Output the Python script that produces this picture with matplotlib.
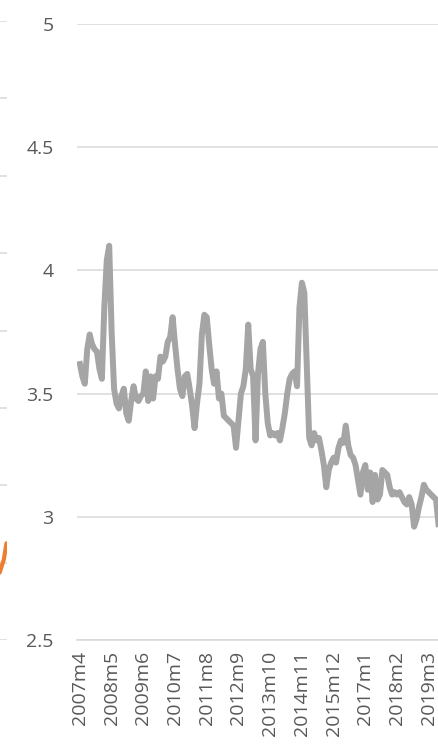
import numpy as np
import matplotlib
matplotlib.use('Agg')
import matplotlib.pyplot as plt

plt.rcParams['font.family'] = ['Open Sans', 'DejaVu Sans']

# monthly series, 2007m4 onwards
start_year, start_month = 2007, 4
values = [3.62, 3.57, 3.54, 3.68, 3.74, 3.70, 3.68, 3.67, 3.60, 3.56,
          3.85, 4.04, 4.10, 3.75, 3.52, 3.46, 3.44, 3.49, 3.52, 3.42,
          3.39, 3.47, 3.53, 3.48, 3.47, 3.49, 3.50, 3.59, 3.47, 3.57,
          3.48, 3.57, 3.56, 3.65, 3.63, 3.65, 3.71, 3.73, 3.81, 3.70,
          3.60, 3.52, 3.49, 3.57, 3.58, 3.52, 3.45, 3.36, 3.46, 3.54,
          3.74, 3.82, 3.81, 3.70, 3.60, 3.54, 3.59, 3.48, 3.50, 3.41,
          3.40, 3.39, 3.38, 3.37, 3.28, 3.39, 3.50, 3.53, 3.60, 3.78,
          3.60, 3.57, 3.31, 3.58, 3.68, 3.71, 3.50, 3.38, 3.33, 3.34,
          3.33, 3.34, 3.31, 3.36, 3.42, 3.50, 3.56, 3.58, 3.59, 3.53,
          3.85, 3.95, 3.91, 3.62, 3.32, 3.29, 3.34, 3.31, 3.32, 3.27,
          3.21, 3.12, 3.19, 3.22, 3.24, 3.22, 3.28, 3.31, 3.30, 3.37,
          3.29, 3.25, 3.24, 3.21, 3.15, 3.09, 3.18, 3.21, 3.11, 3.18,
          3.06, 3.17, 3.07, 3.09, 3.19, 3.18, 3.17, 3.12, 3.09, 3.10,
          3.09, 3.10, 3.08, 3.06, 3.05, 3.08, 3.05, 2.96, 2.99, 3.04,
          3.08, 3.13, 3.11, 3.10, 3.09, 3.08, 3.07, 2.97]

labels = []
for i in range(len(values)):
    m = start_month - 1 + i
    labels.append('%dm%d' % (start_year + m // 12, m % 12 + 1))

# edge of the neighbouring chart (only a sliver is visible)
nb_x = [9.4, 9.8, 10.05]
nb_y = [0.87, 1.04, 1.25]

W, H = 439, 747
fig = plt.figure(figsize=(W / 100, H / 100), dpi=100)
bottom = (H - 640) / H
height = (640 - 24) / H

grid_c = '#d9d9d9'
text_c = '#595959'

# neighbour sliver
ax0 = fig.add_axes([-100 / W, bottom, 107 / W, (640 - 21) / H])
ax0.set_xlim(0, 10.1)
ax0.set_ylim(0, 8)
for g in range(9):
    ax0.axhline(g, color=grid_c, lw=1.1)
ax0.plot(nb_x, nb_y, color='#ed7d31', lw=3, solid_capstyle='round')
ax0.axis('off')

# main chart
ax = fig.add_axes([77 / W, bottom, 381 / W, height])
x = np.arange(len(values))
ax.plot(x, values, color='#a5a5a5', lw=4.3, solid_joinstyle='round')
ax.set_xlim(-1.2, 155)
ax.set_ylim(2.5, 5)
ax.set_yticks([2.5, 3, 3.5, 4, 4.5, 5])
ax.set_yticklabels(['2.5', '3', '3.5', '4', '4.5', '5'])
ax.yaxis.grid(True, color=grid_c, lw=1.1)
ax.set_axisbelow(True)
ticks = list(range(0, len(values), 13))
ax.set_xticks(ticks)
ax.set_xticklabels([labels[t] for t in ticks], rotation=90, va='top', ha='center')
for s in ['top', 'right', 'left']:
    ax.spines[s].set_visible(False)
ax.spines['bottom'].set_color(grid_c)
ax.spines['bottom'].set_linewidth(1.1)
ax.tick_params(axis='both', length=0, labelsize=14, colors=text_c)
ax.tick_params(axis='y', pad=17)
ax.tick_params(axis='x', pad=8)

fig.savefig('out.png', dpi=100)
